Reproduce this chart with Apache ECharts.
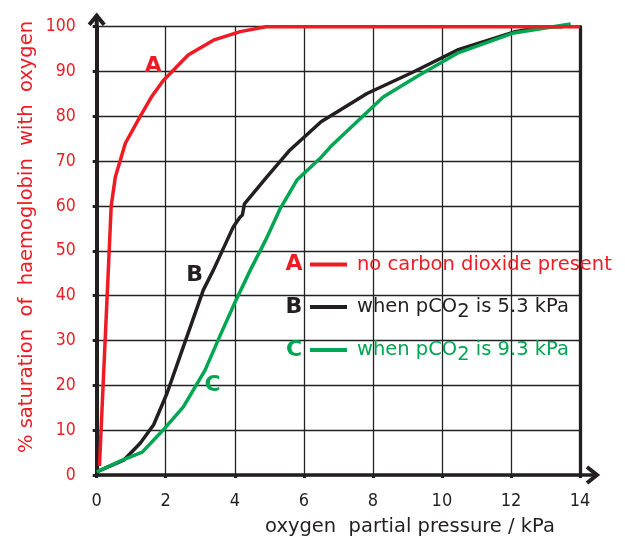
<!DOCTYPE html>
<html><head><meta charset="utf-8">
<script src="https://cdn.jsdelivr.net/npm/echarts@6/dist/echarts.min.js"></script>
<style>html,body{margin:0;padding:0;background:#fff}#c{width:625px;height:539px}</style>
</head><body><div id="c"></div>
<script>
// ---- data ----
const xTicks = [0, 2, 4, 6, 8, 10, 12, 14];
const yTicks = [0, 10, 20, 30, 40, 50, 60, 70, 80, 90, 100];
const curveA = [[0.08,2],[0.35,48],[0.42,60],[0.54,66.5],[0.83,74],[1.26,80],[1.6,84.5],[1.93,88],[2.65,93.7],[3.38,97],[4.16,98.9],[4.9,100],[14,100]];
const curveB = [[0,0.7],[0.78,3.3],[1.26,7.1],[1.65,11.2],[2.04,18.3],[2.61,30.8],[3.09,41.3],[3.38,45.7],[3.96,55.4],[4.15,57.5],[4.22,58],[4.28,60.5],[4.93,66.5],[5.6,72.5],[6.5,78.8],[7.83,85.1],[9.17,89.9],[10.45,94.8],[12.08,98.8],[12.95,100],[13.5,100]];
const curveC = [[0,0.7],[0.74,3.3],[1.32,5.1],[1.98,10.5],[2.51,15.2],[3.14,23.4],[3.58,31.2],[4.01,38.6],[4.45,45.7],[4.9,52.5],[5.32,59.5],[5.8,65.8],[6.48,70.7],[6.77,73.2],[7.5,78.5],[8.3,84.3],[9.3,89],[10.45,94.1],[12.08,98.6],[13.73,100.6]];
const seriesNames = ['A', 'B', 'C'];
const legendTexts = ['no carbon dioxide present', 'when pCO{s|2} is 5.3 kPa', 'when pCO{s|2} is 9.3 kPa'];
const curveLabelPos = [[1.64, 91.2], [2.84, 44.5], [3.36, 20.1]];
const xName = 'oxygen  partial pressure / kPa';
const yName = '% saturation  of  haemoglobin  with  oxygen';

const RED = '#ed1c24', BLACK = '#231f20', GREEN = '#00a651';
const COLORS = [RED, BLACK, GREEN];
const COND = '"DejaVu Sans Condensed", "DejaVu Sans", sans-serif';
const SANS = '"DejaVu Sans", sans-serif';

const chart = echarts.init(document.getElementById('c'), null, {renderer: 'canvas'});
const option = {
  animation: false,
  backgroundColor: '#fff',
  grid: {left: 96.7, right: 45, top: 26.7, bottom: 64, containLabel: false},
  xAxis: {
    type: 'value', min: xTicks[0], max: xTicks[xTicks.length - 1], interval: 2,
    axisLine: {show: true, onZero: false, lineStyle: {color: BLACK, width: 3.5}},
    axisTick: {show: true, length: 3, lineStyle: {color: BLACK, width: 3}},
    axisLabel: {margin: 17, color: BLACK, fontFamily: '"Liberation Sans Narrow", ' + COND, fontSize: 18},
    splitLine: {show: true, lineStyle: {color: '#222', width: 1.3}}
  },
  yAxis: [{
    type: 'value', min: yTicks[0], max: yTicks[yTicks.length - 1], interval: 10,
    axisLine: {show: true, onZero: false, lineStyle: {color: BLACK, width: 4}},
    axisTick: {show: true, length: 4, lineStyle: {color: BLACK, width: 3}},
    axisLabel: {margin: 21, color: RED, fontFamily: COND, fontSize: 17.5},
    splitLine: {show: true, lineStyle: {color: '#222', width: 1.3}}
  }, {
    type: 'value', position: 'right', min: 0, max: 100, interval: 10,
    axisLine: {show: true, onZero: false, lineStyle: {color: BLACK, width: 3.3}},
    axisTick: {show: false}, axisLabel: {show: false}, splitLine: {show: false}
  }],
  series: [
    {name: seriesNames[1], type: 'line', data: curveB, showSymbol: false, clip: false, z: 3,
     lineStyle: {color: BLACK, width: 3.5}},
    {name: seriesNames[2], type: 'line', data: curveC, showSymbol: false, clip: false, z: 4,
     lineStyle: {color: GREEN, width: 3.5}},
    {name: seriesNames[0], type: 'line', data: curveA, showSymbol: false, clip: false, z: 5,
     lineStyle: {color: RED, width: 3.5}}
  ]
};
chart.setOption(option);

const px = (x, y) => chart.convertToPixel({gridIndex: 0}, [x, y]);
const pTop = px(0, 100), pRight = px(14, 0);
const graphics = [];
// axis extensions with arrowheads
graphics.push({type: 'line', shape: {x1: pTop[0], y1: pTop[1], x2: pTop[0], y2: pTop[1] - 12}, style: {stroke: BLACK, lineWidth: 4}, z: 10});
graphics.push({type: 'polyline', shape: {points: [[pTop[0] - 7.5, pTop[1] - 2], [pTop[0], pTop[1] - 11], [pTop[0] + 7.5, pTop[1] - 2]]}, style: {stroke: BLACK, lineWidth: 4, fill: null, lineJoin: 'miter'}, z: 10});
graphics.push({type: 'line', shape: {x1: pRight[0], y1: pRight[1], x2: pRight[0] + 18, y2: pRight[1]}, style: {stroke: BLACK, lineWidth: 3.5}, z: 10});
graphics.push({type: 'polyline', shape: {points: [[pRight[0] + 7, pRight[1] - 8], [pRight[0] + 17, pRight[1]], [pRight[0] + 7, pRight[1] + 8]]}, style: {stroke: BLACK, lineWidth: 4, fill: null, lineJoin: 'miter'}, z: 10});
// curve labels
seriesNames.forEach((n, i) => {
  const p = px(curveLabelPos[i][0], curveLabelPos[i][1]);
  graphics.push({type: 'text', x: p[0], y: p[1], z: 20, style: {text: n, fill: COLORS[i], font: 'bold 22px ' + SANS, align: 'center', verticalAlign: 'middle'}});
});
// in-plot legend
const legY = [264.5, 307, 350];
seriesNames.forEach((n, i) => {
  const y = legY[i];
  graphics.push({type: 'text', x: 294, y: y, z: 20, style: {text: n, fill: COLORS[i], font: 'bold 22px ' + SANS, align: 'center', verticalAlign: 'middle'}});
  graphics.push({type: 'line', z: 20, shape: {x1: 310, y1: y, x2: 347, y2: y}, style: {stroke: COLORS[i], lineWidth: 4}});
  graphics.push({type: 'text', x: 357, y: y, z: 20,
    style: {text: legendTexts[i], fill: COLORS[i], fontFamily: SANS, fontSize: 19.5, lineHeight: 24,
      align: 'left', verticalAlign: 'middle',
      rich: {s: {fill: COLORS[i], fontFamily: SANS, fontSize: 19.5, lineHeight: 24, padding: [10, 0, 0, 0]}}}});
});
// axis names
graphics.push({type: 'text', x: 410, y: 527, z: 20, style: {text: xName, fill: BLACK, fontFamily: SANS, fontSize: 19.5, align: 'center', verticalAlign: 'middle'}});
graphics.push({type: 'text', x: 27, y: 237, rotation: Math.PI / 2, z: 20, style: {text: yName, fill: RED, fontFamily: SANS, fontSize: 19.5, align: 'center', verticalAlign: 'middle'}});
chart.setOption({graphic: graphics});
</script></body></html>
